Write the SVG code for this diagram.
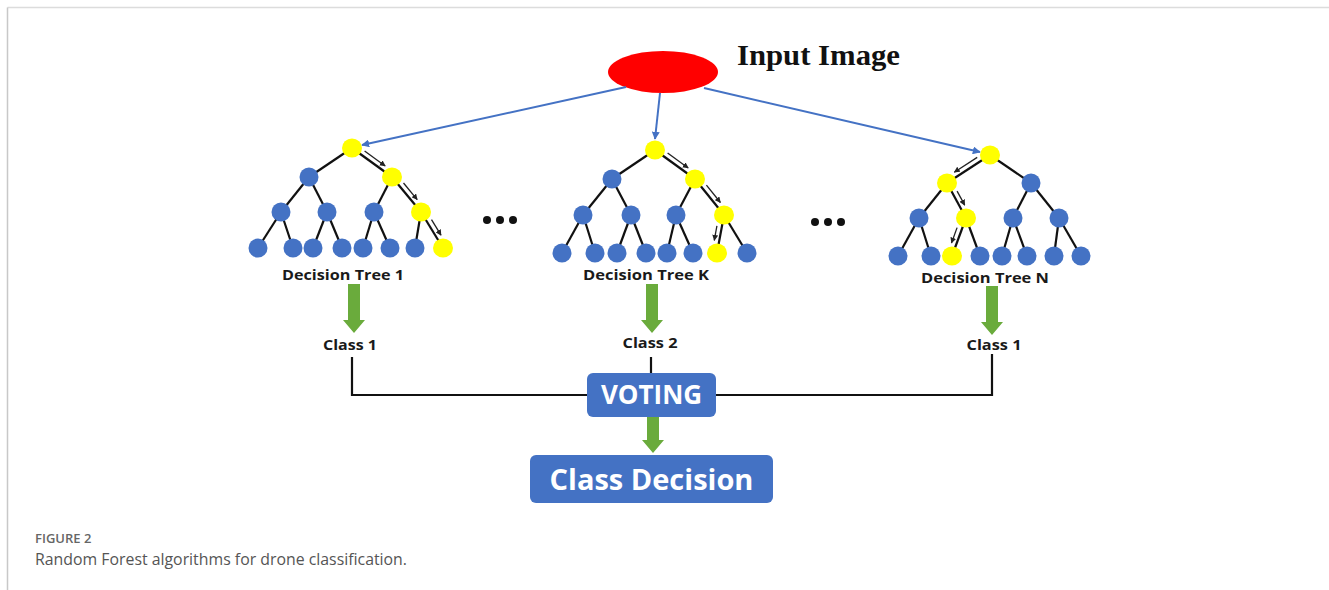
<svg xmlns="http://www.w3.org/2000/svg" width="1329" height="590" viewBox="0 0 1329 590">
  <defs>
    <style>
      .edge { stroke: #111; stroke-width: 2.2; fill: none; }
      .blue { fill: #4472C4; }
      .yel { fill: #FFFF00; }
      .path { stroke: #222; stroke-width: 1.3; fill: none; marker-end: url(#ah); }
      .in { stroke: #4472C4; stroke-width: 2; fill: none; marker-end: url(#bh); }
      .lbl { font-family: "Open Sans", "Liberation Sans", sans-serif; font-weight: 700; fill: #1a1a1a; text-anchor: middle; }
      .green { fill: #6AAB3C; }
      .conn { stroke: #111; stroke-width: 2.2; fill: none; }
      .box { fill: #4472C4; }
      .boxt { font-family: "Open Sans", "Liberation Sans", sans-serif; font-weight: 700; fill: #ffffff; text-anchor: middle; }
      .dot { fill: #111; }
    </style>
    <marker id="ah" viewBox="0 0 10 10" refX="9" refY="5" markerWidth="6" markerHeight="6" markerUnits="userSpaceOnUse" orient="auto">
      <path d="M0,0 L10,5 L0,10 z" fill="#222"/>
    </marker>
    <marker id="bh" viewBox="0 0 10 10" refX="9" refY="5" markerWidth="8" markerHeight="8" markerUnits="userSpaceOnUse" orient="auto">
      <path d="M0,0 L10,5 L0,10 z" fill="#4472C4"/>
    </marker>
  </defs>

  <!-- frame -->
  <g id="frame">
    <line x1="7.5" y1="7.5" x2="1329" y2="7.5" stroke="#dcdcdc" stroke-width="1.5"/>
    <line x1="7.5" y1="7.5" x2="7.5" y2="590" stroke="#c8c8c8" stroke-width="1.5"/>
  </g>

  <!-- input -->
  <g id="input">
    <ellipse cx="663" cy="72" rx="55" ry="21" fill="#FF0000"/>
    <text x="737" y="65" font-family="Liberation Serif, serif" font-weight="700" font-size="29" fill="#111" textLength="163" lengthAdjust="spacingAndGlyphs">Input Image</text>
  </g>

  <!-- connectors -->
  <g id="connectors">
    <line class="in" x1="626" y1="87" x2="362" y2="145"/>
    <line class="in" x1="660" y1="93" x2="655" y2="139"/>
    <line class="in" x1="704" y1="88" x2="980" y2="152"/>

    <polygon class="green" points="348,284 360,284 360,320 365,320 354,333 343,320 348,320"/>
    <polygon class="green" points="646,284 658,284 658,320 663,320 652,333 641,320 646,320"/>
    <polygon class="green" points="986,286 998,286 998,322 1003,322 992,335 981,322 986,322"/>
    <polygon class="green" points="647,417 659,417 659,440 664,440 653,453 642,440 647,440"/>

    <polyline class="conn" points="352,357 352,395 588,395"/>
    <polyline class="conn" points="992,354 992,395 715,395"/>
    <line class="conn" x1="651" y1="357" x2="651" y2="373"/>
  </g>

  <!-- Tree 1 -->
  <g id="tree1">
    <g>
      <line class="edge" x1="352" y1="148" x2="309" y2="177"/>
      <line class="edge" x1="352" y1="148" x2="392" y2="177"/>
      <line class="edge" x1="309" y1="177" x2="281" y2="212"/>
      <line class="edge" x1="309" y1="177" x2="327" y2="212"/>
      <line class="edge" x1="392" y1="177" x2="374" y2="212"/>
      <line class="edge" x1="392" y1="177" x2="421" y2="212"/>
      <line class="edge" x1="281" y1="212" x2="258" y2="248"/>
      <line class="edge" x1="281" y1="212" x2="293" y2="248"/>
      <line class="edge" x1="327" y1="212" x2="313" y2="248"/>
      <line class="edge" x1="327" y1="212" x2="342" y2="248"/>
      <line class="edge" x1="374" y1="212" x2="363" y2="248"/>
      <line class="edge" x1="374" y1="212" x2="390" y2="248"/>
      <line class="edge" x1="421" y1="212" x2="415" y2="248"/>
      <line class="edge" x1="421" y1="212" x2="443" y2="248"/>
    </g>
    <line class="path" x1="364.6" y1="151" x2="385.2" y2="166"/>
    <line class="path" x1="403.5" y1="183" x2="417.2" y2="199.6"/>
    <line class="path" x1="431.5" y1="219.6" x2="441" y2="235.2"/>
    <ellipse class="yel" cx="352" cy="148" rx="10" ry="9.5"/>
    <circle class="blue" cx="309" cy="177" r="9.5"/>
    <ellipse class="yel" cx="392" cy="177" rx="10" ry="9.5"/>
    <circle class="blue" cx="281" cy="212" r="9.5"/>
    <circle class="blue" cx="327" cy="212" r="9.5"/>
    <circle class="blue" cx="374" cy="212" r="9.5"/>
    <ellipse class="yel" cx="421" cy="212" rx="10" ry="9.5"/>
    <circle class="blue" cx="258" cy="248" r="9.5"/>
    <circle class="blue" cx="293" cy="248" r="9.5"/>
    <circle class="blue" cx="313" cy="248" r="9.5"/>
    <circle class="blue" cx="342" cy="248" r="9.5"/>
    <circle class="blue" cx="363" cy="248" r="9.5"/>
    <circle class="blue" cx="390" cy="248" r="9.5"/>
    <circle class="blue" cx="415" cy="248" r="9.5"/>
    <ellipse class="yel" cx="443" cy="248" rx="10" ry="9.5"/>
    <text class="lbl" x="343" y="280" font-size="15" textLength="122" lengthAdjust="spacingAndGlyphs">Decision Tree 1</text>
  </g>

  <!-- Tree K -->
  <g id="treeK">
    <g>
      <line class="edge" x1="655" y1="150" x2="612" y2="179"/>
      <line class="edge" x1="655" y1="150" x2="695" y2="179"/>
      <line class="edge" x1="612" y1="179" x2="583" y2="215"/>
      <line class="edge" x1="612" y1="179" x2="631" y2="215"/>
      <line class="edge" x1="695" y1="179" x2="676" y2="215"/>
      <line class="edge" x1="695" y1="179" x2="724" y2="215"/>
      <line class="edge" x1="583" y1="215" x2="562" y2="253"/>
      <line class="edge" x1="583" y1="215" x2="595" y2="253"/>
      <line class="edge" x1="631" y1="215" x2="617" y2="253"/>
      <line class="edge" x1="631" y1="215" x2="646" y2="253"/>
      <line class="edge" x1="676" y1="215" x2="667" y2="253"/>
      <line class="edge" x1="676" y1="215" x2="693" y2="253"/>
      <line class="edge" x1="724" y1="215" x2="717" y2="253"/>
      <line class="edge" x1="724" y1="215" x2="747" y2="253"/>
    </g>
    <line class="path" x1="667.6" y1="153" x2="688.2" y2="168"/>
    <line class="path" x1="706.4" y1="185.2" x2="720.4" y2="202.5"/>
    <line class="path" x1="716.9" y1="225.9" x2="714.3" y2="240.3"/>
    <ellipse class="yel" cx="655" cy="150" rx="10" ry="9.5"/>
    <circle class="blue" cx="612" cy="179" r="9.5"/>
    <ellipse class="yel" cx="695" cy="179" rx="10" ry="9.5"/>
    <circle class="blue" cx="583" cy="215" r="9.5"/>
    <circle class="blue" cx="631" cy="215" r="9.5"/>
    <circle class="blue" cx="676" cy="215" r="9.5"/>
    <ellipse class="yel" cx="724" cy="215" rx="10" ry="9.5"/>
    <circle class="blue" cx="562" cy="253" r="9.5"/>
    <circle class="blue" cx="595" cy="253" r="9.5"/>
    <circle class="blue" cx="617" cy="253" r="9.5"/>
    <circle class="blue" cx="646" cy="253" r="9.5"/>
    <circle class="blue" cx="667" cy="253" r="9.5"/>
    <circle class="blue" cx="693" cy="253" r="9.5"/>
    <ellipse class="yel" cx="717" cy="253" rx="10" ry="9.5"/>
    <circle class="blue" cx="747" cy="253" r="9.5"/>
    <text class="lbl" x="646" y="280" font-size="15" textLength="126" lengthAdjust="spacingAndGlyphs">Decision Tree K</text>
  </g>

  <!-- Tree N -->
  <g id="treeN">
    <g>
      <line class="edge" x1="990" y1="155" x2="947" y2="183"/>
      <line class="edge" x1="990" y1="155" x2="1031" y2="183"/>
      <line class="edge" x1="947" y1="183" x2="919" y2="218"/>
      <line class="edge" x1="947" y1="183" x2="966" y2="218"/>
      <line class="edge" x1="1031" y1="183" x2="1013" y2="218"/>
      <line class="edge" x1="1031" y1="183" x2="1059" y2="218"/>
      <line class="edge" x1="919" y1="218" x2="898" y2="256"/>
      <line class="edge" x1="919" y1="218" x2="931" y2="256"/>
      <line class="edge" x1="966" y1="218" x2="952" y2="256"/>
      <line class="edge" x1="966" y1="218" x2="980" y2="256"/>
      <line class="edge" x1="1013" y1="218" x2="1002" y2="256"/>
      <line class="edge" x1="1013" y1="218" x2="1027" y2="256"/>
      <line class="edge" x1="1059" y1="218" x2="1054" y2="256"/>
      <line class="edge" x1="1059" y1="218" x2="1081" y2="256"/>
    </g>
    <line class="path" x1="977.2" y1="157.4" x2="954.3" y2="172.2"/>
    <line class="path" x1="957.1" y1="191.1" x2="964.7" y2="205.1"/>
    <line class="path" x1="957.1" y1="227.6" x2="951.5" y2="243"/>
    <ellipse class="yel" cx="990" cy="155" rx="10" ry="9.5"/>
    <ellipse class="yel" cx="947" cy="183" rx="10" ry="9.5"/>
    <circle class="blue" cx="1031" cy="183" r="9.5"/>
    <circle class="blue" cx="919" cy="218" r="9.5"/>
    <ellipse class="yel" cx="966" cy="218" rx="10" ry="9.5"/>
    <circle class="blue" cx="1013" cy="218" r="9.5"/>
    <circle class="blue" cx="1059" cy="218" r="9.5"/>
    <circle class="blue" cx="898" cy="256" r="9.5"/>
    <circle class="blue" cx="931" cy="256" r="9.5"/>
    <ellipse class="yel" cx="952" cy="256" rx="10" ry="9.5"/>
    <circle class="blue" cx="980" cy="256" r="9.5"/>
    <circle class="blue" cx="1002" cy="256" r="9.5"/>
    <circle class="blue" cx="1027" cy="256" r="9.5"/>
    <circle class="blue" cx="1054" cy="256" r="9.5"/>
    <circle class="blue" cx="1081" cy="256" r="9.5"/>
    <text class="lbl" x="985" y="283" font-size="15" textLength="128" lengthAdjust="spacingAndGlyphs">Decision Tree N</text>
  </g>

  <!-- ellipsis dots -->
  <g id="dots1">
    <circle class="dot" cx="487" cy="220" r="4"/>
    <circle class="dot" cx="500" cy="220" r="4"/>
    <circle class="dot" cx="513" cy="220" r="4"/>
  </g>
  <g id="dots2">
    <circle class="dot" cx="815" cy="222" r="4"/>
    <circle class="dot" cx="828" cy="222" r="4"/>
    <circle class="dot" cx="841" cy="222" r="4"/>
  </g>

  <!-- class labels -->
  <g id="class1a"><text class="lbl" x="350" y="350" font-size="15" textLength="54" lengthAdjust="spacingAndGlyphs">Class 1</text></g>
  <g id="class2"><text class="lbl" x="650" y="348" font-size="15" textLength="55" lengthAdjust="spacingAndGlyphs">Class 2</text></g>
  <g id="class1b"><text class="lbl" x="994" y="350" font-size="15" textLength="55" lengthAdjust="spacingAndGlyphs">Class 1</text></g>

  <!-- voting -->
  <g id="voting">
    <rect class="box" x="587" y="373" width="129" height="44" rx="6"/>
    <text class="boxt" x="651.5" y="404" font-size="26">VOTING</text>
  </g>

  <!-- class decision -->
  <g id="decision">
    <rect class="box" x="530" y="455" width="243" height="48" rx="6"/>
    <text class="boxt" x="651.5" y="490" font-size="29">Class Decision</text>
  </g>

  <!-- caption -->
  <g id="caption">
    <text x="35" y="543" font-family="Open Sans, Liberation Sans, sans-serif" font-weight="600" font-size="13" fill="#666">FIGURE 2</text>
    <text x="35" y="565" font-family="Open Sans, Liberation Sans, sans-serif" font-size="16" fill="#555" textLength="372" lengthAdjust="spacingAndGlyphs">Random Forest algorithms for drone classification.</text>
  </g>
</svg>
